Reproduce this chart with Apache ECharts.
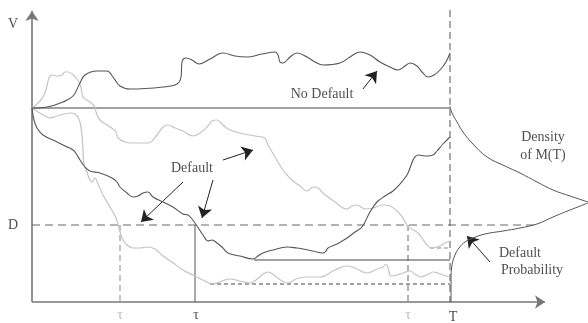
<!DOCTYPE html>
<html><head><meta charset="utf-8">
<script src="https://cdn.jsdelivr.net/npm/echarts@6/dist/echarts.min.js"></script>
<style>html,body{margin:0;padding:0;background:#fff}#c{width:588px;height:323px}</style>
</head><body><div id="c"></div>
<script>
// Diagram coordinates: x = time (0..588), y = value measured downward (0..323)
var noDefaultPath = [[32,108],[47,107],[63,102],[73,96],[80,83],[85,75],[97,71],[107,71],[113,77],[120,86],[130,89],[163,87],[177,84],[181,77],[182,62],[186,58],[192,60],[199,64],[210,59],[223,53],[235,56],[247,57],[262,54],[275,52],[278,55],[280,62],[283,63],[290,57],[297,53],[307,57],[315,62],[323,65],[340,63],[350,57],[360,52],[370,55],[380,62],[390,67],[398,70],[405,66],[410,63],[417,66],[422,72],[428,77],[434,75],[440,70],[446,62],[450,53]];
var greyPathA = [[32,108],[40,101],[45,93],[49,78],[52,75],[57,76],[62,75],[65,72],[68,72],[72,74],[77,79],[81,87],[83,97],[90,102],[95,107],[96,112],[100,120],[110,127],[116,132],[118,138],[125,142],[132,143],[148,143],[157,135],[163,127],[168,125],[175,128],[183,131],[193,136],[200,133],[207,127],[212,121],[217,120],[223,125],[228,129],[240,133],[255,136],[265,138],[267,143],[275,157],[283,170],[288,176],[293,181],[300,186],[307,191],[313,187],[318,188],[323,193],[335,202],[347,209],[352,206],[357,205],[365,209],[373,208],[383,205],[390,206],[397,211],[403,218],[408,227],[412,229],[418,233],[422,238],[427,245],[432,248],[440,246],[445,243],[450,241]];
var greyPathB = [[32,108],[38,112],[45,116],[50,118],[57,116],[64,114],[72,113],[77,116],[80,122],[82,135],[83,150],[84,165],[87,172],[89,178],[92,182],[95,178],[98,184],[103,195],[110,207],[116,218],[119,228],[122,238],[127,245],[133,248],[140,248],[147,247],[155,249],[163,256],[172,262],[183,270],[195,276],[203,280],[213,284],[222,281],[230,279],[240,281],[250,283],[256,280],[262,275],[268,272],[275,276],[282,281],[288,283],[296,279],[305,277],[320,277],[335,270],[347,266],[355,268],[367,273],[377,269],[383,267],[386,264],[388,268],[391,276],[397,275],[403,273],[410,271],[415,274],[420,277],[427,275],[433,272],[438,273],[443,275],[450,277]];
var defaultPath = [[32,108],[34,120],[37,128],[43,135],[57,142],[65,146],[73,150],[77,155],[80,160],[85,167],[90,171],[100,173],[112,178],[117,182],[120,187],[127,193],[133,197],[138,196],[143,193],[148,192],[153,197],[163,202],[173,207],[183,214],[188,215],[192,219],[195,223],[199,229],[203,235],[208,241],[212,240],[217,243],[222,247],[228,253],[240,256],[253,259],[258,256],[263,253],[273,250],[287,247],[297,248],[303,249],[313,251],[323,253],[326,251],[328,248],[337,244],[347,238],[355,232],[362,227],[370,212],[377,202],[385,196],[393,191],[400,184],[407,175],[410,168],[413,160],[415,157],[418,155],[427,156],[433,155],[437,151],[443,144],[450,137]];
var densityUpper = [[450,106],[452,113],[457,122],[463,132],[472,143],[487,157],[505,166],[520,173],[537,182],[553,190],[570,196],[588,202]];
var densityLower = [[588,203],[570,210],[553,217],[537,224],[520,228],[503,231],[485,234],[473,238],[465,242],[459,248],[455,255],[452,265],[451,280],[451,302]];

var startLevel = 108, defaultLevel = 225, maturity = 450, origin = [32,302];
var tauGrey1 = 120, tauDark = 195, tauGrey2 = 408;
var minDefault = [254,260], minGreyB = [210,284], minGreyA = [430,248];

var arrows = [
  [[363,89],[377,71]],
  [[223,160],[253,150]],
  [[183,182],[141,222]],
  [[213,180],[202,218]],
  [[490,262],[467,236]]
];
var labelsDark = [
  {name:'V', value:[13,24]},
  {name:'D', value:[13,225]},
  {name:'No Default', value:[322,94]},
  {name:'Default', value:[192,168]},
  {name:'Density', value:[543,137]},
  {name:'of M(T)', value:[543,155]},
  {name:'Default', value:[520,253]},
  {name:'Probability', value:[532,270]},
  {name:'\u03c4', value:[196,315]},
  {name:'T', value:[453,317]}
];
var labelsGrey = [
  {name:'\u03c4', value:[120,315]},
  {name:'\u03c4', value:[408,315]}
];

function path(data, color, width, smooth, dash) {
  return {type:'line', data:data, showSymbol:false, smooth:smooth, silent:true,
    lineStyle:{color:color, width:width, type:dash||'solid'}};
}
function seg(a, b, color, width, dash) { return path([a,b], color, width, false, dash); }

var series = [
  seg([origin[0], startLevel], [maturity, startLevel], '#444', 1),
  seg([origin[0], defaultLevel], [538, defaultLevel], '#666', 1, [8,5]),
  seg([maturity, 10], [maturity, 302], '#555', 1, [7,4]),
  seg([tauGrey1, defaultLevel], [tauGrey1, 302], '#888', 1, [6,4]),
  seg([tauDark, defaultLevel], [tauDark, 302], '#555', 1),
  seg([tauGrey2, defaultLevel], [tauGrey2, 302], '#666', 1, [6,4]),
  seg([minDefault[0], minDefault[1]], [maturity, minDefault[1]], '#444', 1),
  seg([minGreyB[0], minGreyB[1]], [maturity, minGreyB[1]], '#444', 1, [4,3]),
  seg([minGreyA[0], minGreyA[1]], [maturity, minGreyA[1]], '#888', 1, [4,3]),
  path(greyPathA, '#c4c4c4', 1.2, 0.4),
  path(greyPathB, '#c4c4c4', 1.2, 0.4),
  path(noDefaultPath, '#555', 1.1, 0.4),
  path(defaultPath, '#555', 1.1, 0.4),
  path(densityUpper, '#555', 1, 0.4),
  path(densityLower, '#555', 1, 0.4),
  {type:'lines', coordinateSystem:'cartesian2d', silent:true, symbol:['none','arrow'], symbolSize:10,
   lineStyle:{color:'#777', width:1.6, opacity:1},
   data:[{coords:[origin,[origin[0],11]]},{coords:[origin,[545,origin[1]]]}]},
  {type:'lines', coordinateSystem:'cartesian2d', silent:true, symbol:['none','arrow'], symbolSize:[7,11],
   lineStyle:{color:'#222', width:1, opacity:1},
   data: arrows.map(function(a){return {coords:a};})},
  {type:'scatter', symbolSize:0, silent:true, data:labelsDark,
   label:{show:true, position:'inside', formatter:'{b}', color:'#222', fontFamily:'Liberation Serif', fontSize:14}},
  {type:'scatter', symbolSize:0, silent:true, data:labelsGrey,
   label:{show:true, position:'inside', formatter:'{b}', color:'#aaa', fontFamily:'Liberation Serif', fontSize:14}}
];

var chart = echarts.init(document.getElementById('c'), null, {renderer:'canvas'});
chart.setOption({
  animation:false,
  grid:{left:0, right:0, top:0, bottom:0},
  xAxis:{type:'value', min:0, max:588, show:false},
  yAxis:{type:'value', min:0, max:323, inverse:true, show:false},
  series: series
});
</script></body></html>
